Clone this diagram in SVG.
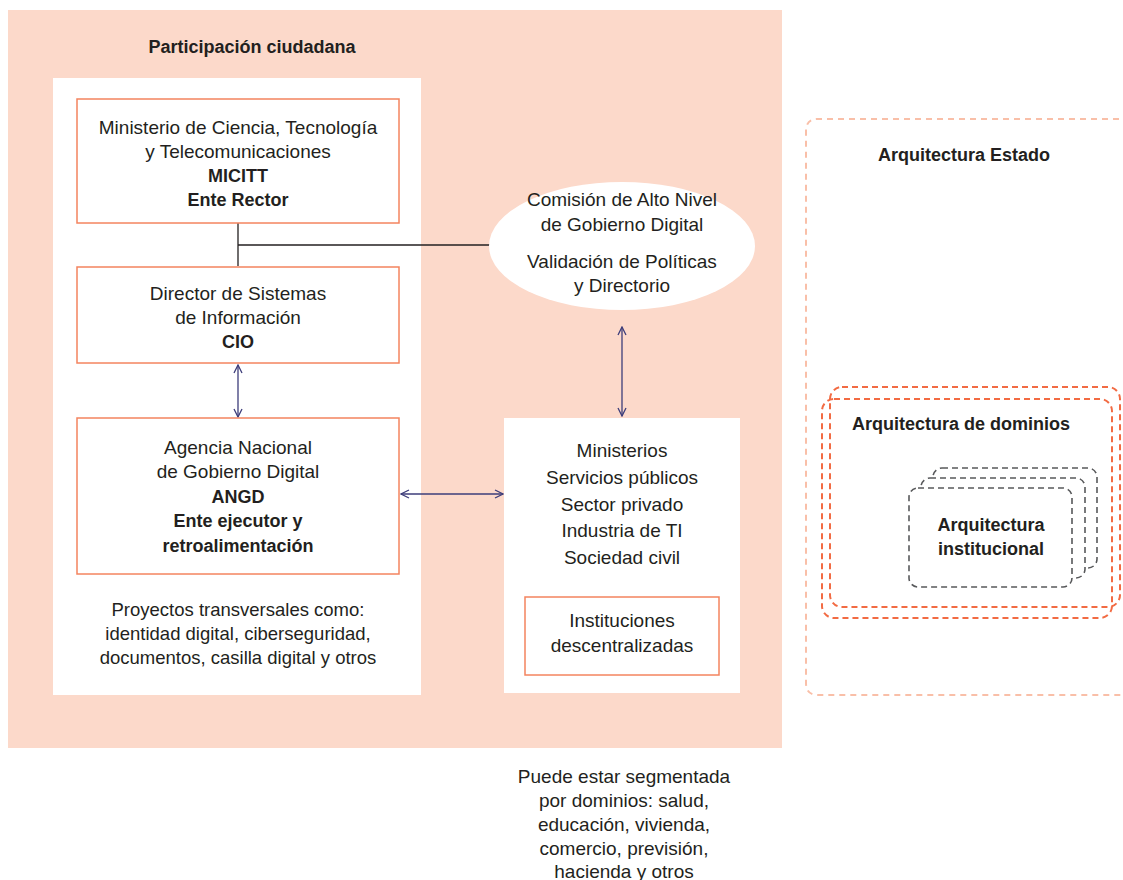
<svg xmlns="http://www.w3.org/2000/svg" width="1123" height="880" viewBox="0 0 1123 880">
<style>
text{font-family:"Liberation Sans Narrow","Liberation Sans",sans-serif;fill:#231F20;text-anchor:middle;font-size:19px}
.b{font-weight:bold;font-size:18px}
.t{font-weight:bold;font-size:18px}
.box{fill:#fff;stroke:#F4845F;stroke-width:1.5}
.arr{stroke:#3D3D7A;stroke-width:1.3;fill:none;marker-start:url(#ah);marker-end:url(#ah)}
.ln{stroke:#231F20;stroke-width:1.3;fill:none}
.dl{fill:none;stroke:#F9BFA8;stroke-width:2;stroke-dasharray:6 5}
.do{fill:none;stroke:#F26B43;stroke-width:2;stroke-dasharray:6 4}
.dg{fill:#fff;stroke:#58595B;stroke-width:1.6;stroke-dasharray:6 4}
</style>
<defs>
<marker id="ah" viewBox="0 0 10 10" refX="9" refY="5" markerWidth="10" markerHeight="10" markerUnits="userSpaceOnUse" orient="auto-start-reverse">
<path d="M1,1 L9,5 L1,9" fill="none" stroke="#3D3D7A" stroke-width="1.3"/>
</marker>
</defs>
<rect width="1123" height="880" fill="#fff"/>
<g id="participacion">
<rect x="8" y="10" width="774" height="738" fill="#FCD9CA"/>
<text class="t" x="252" y="53">Participación ciudadana</text>
<rect x="53" y="78" width="368" height="617" fill="#fff"/>
<rect x="504" y="418" width="236" height="275" fill="#fff"/>
</g>
<g id="connectors">
<line class="ln" x1="238" y1="223" x2="238" y2="266"/>
<line class="ln" x1="238" y1="245" x2="492" y2="245"/>
<line class="arr" x1="238" y1="365" x2="238" y2="417"/>
<line class="arr" x1="622" y1="327" x2="622" y2="416"/>
<line class="arr" x1="401" y1="494" x2="503" y2="494"/>
</g>
<g id="micitt">
<rect class="box" x="77" y="99" width="322" height="124"/>
<text x="238" y="134">Ministerio de Ciencia, Tecnología</text>
<text x="238" y="158">y Telecomunicaciones</text>
<text class="b" x="238" y="182">MICITT</text>
<text class="b" x="238" y="206">Ente Rector</text>
</g>
<g id="cio">
<rect class="box" x="77" y="267" width="322" height="96"/>
<text x="238" y="300">Director de Sistemas</text>
<text x="238" y="324">de Información</text>
<text class="b" x="238" y="348">CIO</text>
</g>
<g id="angd">
<rect class="box" x="77" y="418" width="322" height="156"/>
<text x="238" y="454">Agencia Nacional</text>
<text x="238" y="478">de Gobierno Digital</text>
<text class="b" x="238" y="503">ANGD</text>
<text class="b" x="238" y="527">Ente ejecutor y</text>
<text class="b" x="238" y="552">retroalimentación</text>
</g>
<g id="proyectos">
<text x="238" y="616" style="font-size:18.5px">Proyectos transversales como:</text>
<text x="238" y="640" style="font-size:18.5px">identidad digital, ciberseguridad,</text>
<text x="238" y="664" style="font-size:18.5px">documentos, casilla digital y otros</text>
</g>
<g id="comision">
<ellipse cx="622" cy="246" rx="133" ry="64" fill="#fff"/>
<text x="622" y="206">Comisión de Alto Nivel</text>
<text x="622" y="231">de Gobierno Digital</text>
<text x="622" y="268">Validación de Políticas</text>
<text x="622" y="292">y Directorio</text>
</g>
<g id="ministerios">
<text x="622" y="457">Ministerios</text>
<text x="622" y="484">Servicios públicos</text>
<text x="622" y="511">Sector privado</text>
<text x="622" y="537">Industria de TI</text>
<text x="622" y="564">Sociedad civil</text>
</g>
<g id="instituciones">
<rect class="box" x="525" y="597" width="194" height="78"/>
<text x="622" y="627">Instituciones</text>
<text x="622" y="652">descentralizadas</text>
</g>
<g id="nota">
<text x="624" y="783">Puede estar segmentada</text>
<text x="624" y="807">por dominios: salud,</text>
<text x="624" y="831">educación, vivienda,</text>
<text x="624" y="855">comercio, previsión,</text>
<text x="624" y="878">hacienda y otros</text>
</g>
<g id="arq-estado">
<path class="dl" d="M1130,119 H818 Q806,119 806,131 V683 Q806,695 818,695 H1130"/>
<text class="t" x="964" y="161">Arquitectura Estado</text>
</g>
<g id="arq-dominios">
<rect class="do" x="830" y="387" width="290" height="220" rx="12"/>
<rect class="do" x="822" y="399" width="290" height="219" rx="12"/>
<text class="t" x="961" y="430">Arquitectura de dominios</text>
</g>
<g id="arq-institucional">
<rect class="dg" x="933" y="468" width="164" height="100" rx="9"/>
<rect class="dg" x="921" y="478" width="164" height="100" rx="9"/>
<rect class="dg" x="909" y="488" width="163" height="99" rx="9"/>
<text class="t" x="991" y="531">Arquitectura</text>
<text class="t" x="991" y="555">institucional</text>
</g>
</svg>
